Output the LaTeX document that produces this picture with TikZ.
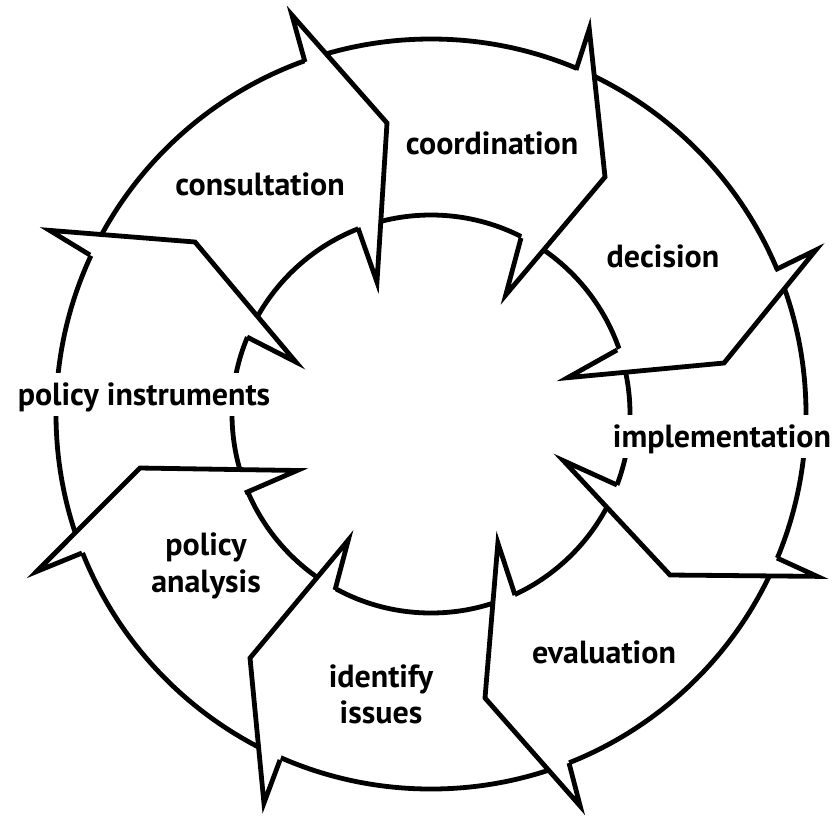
\documentclass[tikz,border=0pt]{standalone}
\usepackage{fontspec}
\setmainfont{PT Sans}
\usetikzlibrary{calc}
\newcommand\spikecut{8pt}
\newcommand\cyclehead[5]{%
  \coordinate (hob) at #1; \coordinate (hos) at #2; \coordinate (htp) at #3;
  \coordinate (his) at #4; \coordinate (hib) at #5;
  \coordinate (hoa) at ($(hos)!10pt!(hob)$);
  \coordinate (hoc) at ($(hos)!10pt!(htp)$);
  \coordinate (hom) at ($(hoa)!.5!(hoc)$);
  \coordinate (hos2) at ($(hos)!\spikecut!(hom)$);
  \coordinate (hia) at ($(his)!10pt!(hib)$);
  \coordinate (hic) at ($(his)!10pt!(htp)$);
  \coordinate (him) at ($(hia)!.5!(hic)$);
  \coordinate (his2) at ($(his)!\spikecut!(him)$);
  \draw[head] (hob) -- (hos2) -- (htp) -- (his2) -- (hib);
}
\begin{document}
\begin{tikzpicture}[x=1pt,y=-1pt,
  ring/.style={line width=4.8pt},
  head/.style={line width=4.8pt, line join=miter, fill=white},
  lbl/.style={font=\fontsize{32}{38}\selectfont\bfseries, inner sep=0pt, anchor=base},
  lblbg/.style={lbl, fill=white, inner xsep=3pt, text height=32pt, text depth=11pt}]
\useasboundingbox (0,0) rectangle (834,815);
\fill[white] (0,0) rectangle (834,815);
\coordinate (c) at (431,414);
\draw[ring] (c) circle[radius=375];
\draw[ring] (c) circle[radius=199];
% heads: outer base, outer spike, tip, inner spike, inner base
\cyclehead{(90,255)}{(42,228)}{(195,242)}{(302,367)}{(247,337)}
\cyclehead{(305,62)}{(288,8)}{(387,123)}{(378,290)}{(358,228)}
\cyclehead{(576,70)}{(590,21)}{(605,177)}{(502,302)}{(521,238)}
\cyclehead{(775,270)}{(822,245)}{(724,363)}{(560,380)}{(617,350)}
\cyclehead{(777,558)}{(825,578)}{(670,575)}{(557,456)}{(617,485)}
\cyclehead{(569,763)}{(584,813)}{(485,698)}{(497,535)}{(515,595)}
\cyclehead{(280,760)}{(263,811)}{(250,658)}{(352,533)}{(335,590)}
\cyclehead{(82,553)}{(30,576)}{(140,468)}{(305,469)}{(245,493)}
% labels
\node[lbl] (consultation) at (260,195) {consultation};
\node[lbl] (coordination) at (492,154) {coordination};
\node[lbl] (decision) at (663,267) {decision};
\node[lblbg] (implementation) at (722,447) {implementation};
\node[lbl] (evaluation) at (604,663) {evaluation};
\node[lbl] (identify) at (381,687) {identify};
\node[lbl] (issues) at (381,723) {issues};
\node[lbl] (policyA) at (206,555) {policy};
\node[lbl] (analysis) at (206,592) {analysis};
\node[lblbg] (instruments) at (144,405) {policy instruments};
\end{tikzpicture}
\end{document}
